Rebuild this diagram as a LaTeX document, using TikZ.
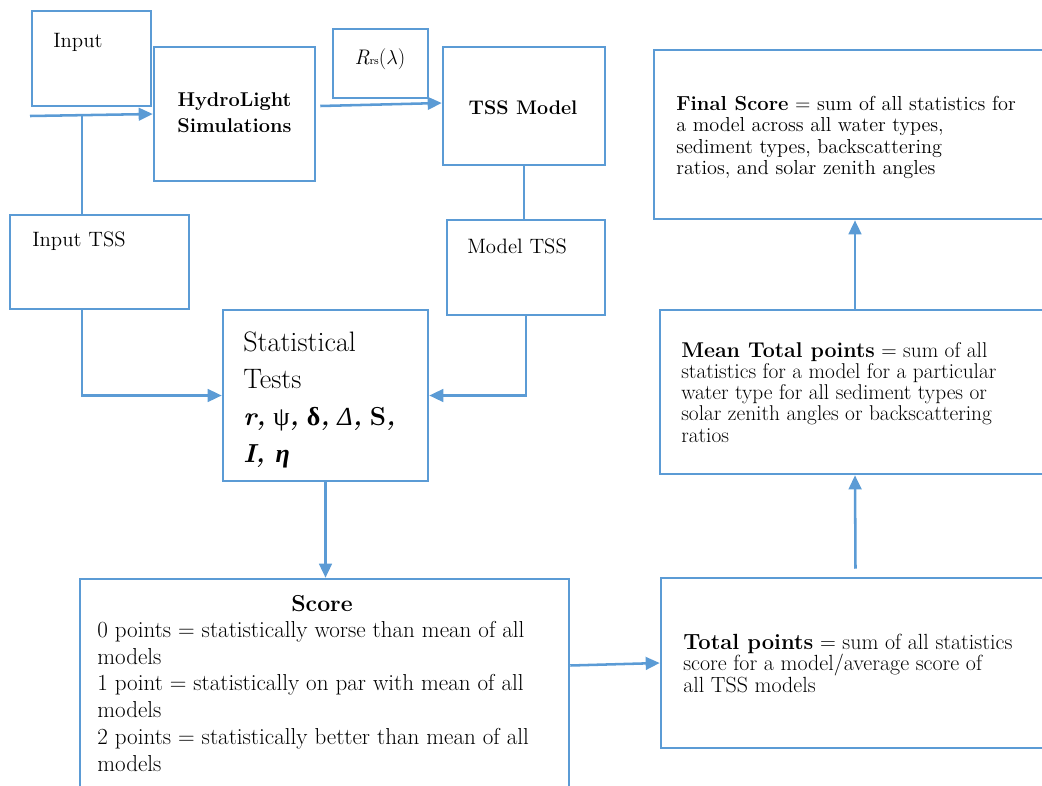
\documentclass[tikz,border=0pt]{standalone}
\usepackage{fontspec}
\newfontfamily\grk{Liberation Serif}
\usetikzlibrary{positioning,calc,fit,arrows.meta}
\definecolor{azul}{RGB}{91,155,213}
\tikzset{
  caja/.style={draw=azul,line width=1.8pt,inner sep=0pt},
  linea/.style={draw=azul,line width=1.8pt},
  flecha/.style={linea,-{Triangle[length=10pt,width=9pt]}},
  texto/.style={anchor=north west,align=left,inner sep=0pt,font=\fontsize{14.4}{15.1}\selectfont},
  rotulo/.style={anchor=west,inner sep=0pt,font=\fontsize{14.8}{16}\selectfont}
}

\begin{document}
\begin{tikzpicture}[x=0.025cm,y=-0.025cm]
	\useasboundingbox (0,0) rectangle (1042,785);

	% boxes
	\node[caja,fit={(32,11) (151,106)}] (input) {};
	\node[caja,fit={(154,47) (315,181)}] (hydro) {};
	\node[caja,fit={(333,29) (428,98)}] (rrs) {};
	\node[caja,fit={(443,47) (605,165)}] (tss) {};
	\node[caja,fit={(654,50) (1056,219)}] (final) {};
	\node[caja,fit={(10,215) (189,309)}] (inputtss) {};
	\node[caja,fit={(447,220) (605,315)}] (modeltss) {};
	\node[caja,fit={(223,310) (428,481)}] (stat) {};
	\node[caja,fit={(660,310) (1050,474)}] (mean) {};
	\node[caja,fit={(80,579) (569,800)}] (score) {};
	\node[caja,fit={(661,578) (1050,748)}] (total) {};

	% texts
	\node[rotulo] (inputtxt) at (53,42) {Input};
	\node[align=center,font=\fontsize{14.2}{18.4}\selectfont\bfseries] (hydrotxt) at ([yshift=1pt]hydro.center) {HydroLight\\Simulations};
	\node[font=\fontsize{15}{16}\selectfont] (rrstxt) at (380,59) {\textit{R}{\footnotesize rs}($\lambda$)};
	\node[font=\fontsize{14}{16}\selectfont\bfseries] (tsstxt) at (523,108) {TSS Model};
	\node[texto] (finaltxt) at (676,96) {\textbf{Final Score} = sum of all statistics for\\a model across all water types,\\sediment types, backscattering\\ratios, and solar zenith angles};
	\node[rotulo] (inputtsstxt) at (32,241) {Input TSS};
	\node[rotulo] (modeltsstxt) at (467,246) {Model TSS};
	\node[texto,font=\fontsize{20}{26.3}\selectfont] (stattxt) at (243,332) {Statistical\\Tests\\{\fontsize{18.5}{26.3}\selectfont\textbf{\textit{r,}} {\grk ψ}\textbf{\textit{,}} {\grk\bfseries δ}\textbf{\textit{,}} {\grk\itshape Δ}\textbf{\textit{,}} \textbf{S\textit{,}}}\\{\fontsize{18.5}{26.3}\selectfont\textbf{\textit{I, }}{\grk\bfseries\itshape η}}};
	\node[texto,font=\fontsize{15.2}{15.1}\selectfont] (meantxt) at (681,342) {\textbf{Mean Total points} = sum of all\\statistics for a model for a particular\\water type for all sediment types or\\solar zenith angles or backscattering\\ratios};
	\node[font=\fontsize{16.4}{18.8}\selectfont\bfseries] (scoretitle) at (322,604) {Score};
	\node[texto,font=\fontsize{16.4}{19}\selectfont] (scoretxt) at (97,621) {0 points = statistically worse than mean of all\\models\\1 point = statistically on par with mean of all\\models\\2 points = statistically better than mean of all\\models};
	\node[texto,font=\fontsize{15.6}{15.1}\selectfont] (totaltxt) at (683,634) {\textbf{Total points} = sum of all statistics\\score for a model/average score of\\all TSS models};

	% connectors
	\coordinate (instart) at (30,116);
	\coordinate (branch) at (82,115);
	\draw[flecha] (instart) -- (hydro.west);
	\draw[linea] (branch) -- (branch |- inputtss.north);
	\draw[flecha] ($(hydro.east)+(4,-8)$) -- ($(tss.west)+(0,-3)$);
	\draw[linea] (tss.south) -- (tss.south |- modeltss.north);
	\draw[flecha] (inputtss.south -| branch) |- (stat.west);
	\draw[flecha] (modeltss.south) |- (stat.east);
	\draw[flecha] (stat.south) -- (stat.south |- score.north);
	\draw[flecha] ($(score.east)+(0,-24)$) -- (total.west);
	\draw[flecha] ($(total.north)+(0,-8)$) -- (mean.south);
	\draw[flecha] (mean.north) -- (final.south);
\end{tikzpicture}
\end{document}
